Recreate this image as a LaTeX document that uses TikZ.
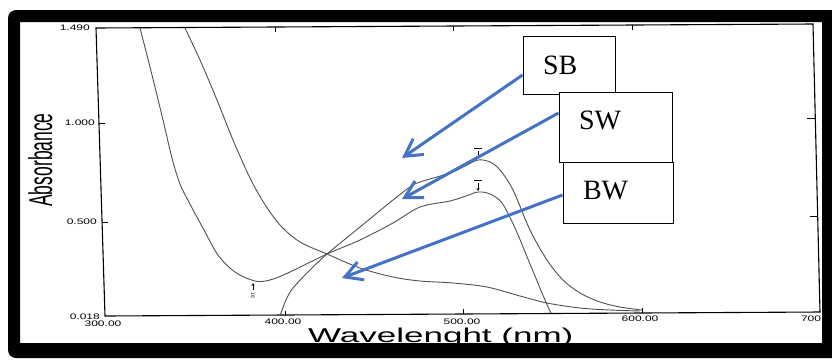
\documentclass[tikz,border=0pt]{standalone}
\usepackage{fontspec}
\setmainfont{Liberation Serif}
\newfontfamily\axfont{Liberation Sans}
\usetikzlibrary{arrows.meta}
\definecolor{officeblue}{RGB}{68,114,196}
\definecolor{curvegray}{RGB}{80,80,80}
\begin{document}
\begin{tikzpicture}[x=1pt,y=-1pt,
  axisline/.style={line width=1.1pt, black},
  tickline/.style={line width=1pt, black},
  curve/.style={curvegray, line width=0.9pt, smooth, tension=0.55},
  ticklbl/.style={font=\axfont\fontsize{8}{8}\selectfont, inner sep=0pt},
  labelbox/.style={draw=black, fill=white, line width=1pt, font=\fontsize{28}{28}\selectfont, inner xsep=20pt, inner ysep=0pt, align=left},
  pointer/.style={officeblue, line width=3pt, -{Straight Barb[length=17pt,width=19pt]}},
  marker/.style={line width=0.8pt, black, -{Stealth[length=3pt,width=3pt]}},
]
\useasboundingbox (0,0) rectangle (832,360);
\fill[white] (0,0) rectangle (832,360);

% axes frame of the plot
\coordinate (tl) at (96,28);
\coordinate (bl) at (105,316);
\coordinate (br) at (820,312);
\coordinate (tr) at (813,24);
\draw[axisline] (tl) -- (bl) -- (br) -- (tr) -- cycle;

% ticks
\draw[tickline] (99,123) -- (105,123);
\draw[tickline] (102,222) -- (108,222);
\draw[tickline] (807,118) -- (815,118);
\draw[tickline] (810,216) -- (817,216);
\draw[tickline] (275,27) -- (275,32);
\draw[tickline] (453,26) -- (453,31);
\draw[tickline] (632,25) -- (632,30);
\draw[tickline] (285,311) -- (285,316);
\draw[tickline] (463,309) -- (463,314);
\draw[tickline] (642,308) -- (642,313);

% tick labels
\node[ticklbl, anchor=east] (y1) at (90,28) {\scalebox{1.5}[1]{1.490}};
\node[ticklbl, anchor=east] (y2) at (95,123) {\scalebox{1.5}[1]{1.000}};
\node[ticklbl, anchor=east] (y3) at (97,222) {\scalebox{1.5}[1]{0.500}};
\node[ticklbl, anchor=east] (y4) at (100,317) {\scalebox{1.5}[1]{0.018}};
\node[ticklbl] (x1) at (103,324) {\scalebox{1.5}[1]{300.00}};
\node[ticklbl] (x2) at (283,322) {\scalebox{1.5}[1]{400.00}};
\node[ticklbl] (x3) at (462,322) {\scalebox{1.5}[1]{500.00}};
\node[ticklbl] (x4) at (640,319) {\scalebox{1.5}[1]{600.00}};
\node[ticklbl] (x5) at (811,319) {\scalebox{1.5}[1]{700}};

% axis titles
\node[font=\axfont\fontsize{33}{33}\selectfont, rotate=90, anchor=base, inner sep=0pt] (ytitle) at (52,160) {\scalebox{0.53}[1]{Absorbance}};
\node[font=\axfont\fontsize{20}{20}\selectfont, anchor=base west, inner sep=0pt] (xtitle) at (308,342) {\scalebox{1.75}[1]{Wavelenght (nm)}};

% spectra
\draw[curve] plot coordinates {(140,28) (152,75) (163,120) (172,158) (180,184) (191,206) (204,230) (218,255) (235,272) (255,281) (270,280) (290,272) (327,254) (360,240) (393,223) (420,207) (450,201) (466,196) (478,192) (490,194) (502,203) (515,228) (530,264) (545,300) (551,313)};
\draw[curve] plot coordinates {(185,28) (200,60) (217,100) (233,140) (250,178) (264,203) (280,225) (300,242) (327,254) (360,268) (393,277) (420,281) (453,283) (487,287) (520,296) (547,303) (580,308) (610,310) (640,311)};
\draw[curve] plot coordinates {(280,316) (286,300) (293,288) (310,270) (327,254) (360,227) (393,200) (410,187) (420,182) (450,173) (465,166) (478,160) (490,162) (500,170) (513,190) (530,230) (547,260) (563,280) (580,293) (600,302) (620,307) (642,310)};

% peak / valley markers
\draw[line width=0.8pt] (474,148) -- (482,148);
\draw[marker] (478,151) -- (478,159);
\draw[line width=0.8pt] (474,180) -- (482,180);
\draw[marker] (478,183) -- (478,191);
\draw[marker] (253,290) -- (253,283);
\node[font=\axfont\fontsize{5}{5}\selectfont, rotate=-90, inner sep=0pt] (minlbl) at (253,295) {16};

% label boxes
\node[labelbox, text width=52pt, minimum height=58pt] (SB) at (569,65) {SB};
\node[labelbox, text width=73pt, minimum height=70pt, text depth=14pt] (SW) at (615.5,127) {SW};
\node[labelbox, text width=70pt, minimum height=61pt, text depth=5pt] (BW) at (618,192.5) {BW};

% pointers
\coordinate (sbtip) at (402,158);
\coordinate (swtip) at (402,199);
\coordinate (bwtip) at (342,278);
\draw[pointer] ([yshift=-10pt]SB.west) -- (sbtip);
\draw[pointer] ([yshift=14pt]SW.west) -- (swtip);
\draw[pointer] ([yshift=-2.5pt]BW.west) -- (bwtip);

% black outer frame
\fill[black, even odd rule] [rounded corners=8pt] (8,10) rectangle (848,358) [sharp corners] (20,22) rectangle (822,343);
\end{tikzpicture}
\end{document}
